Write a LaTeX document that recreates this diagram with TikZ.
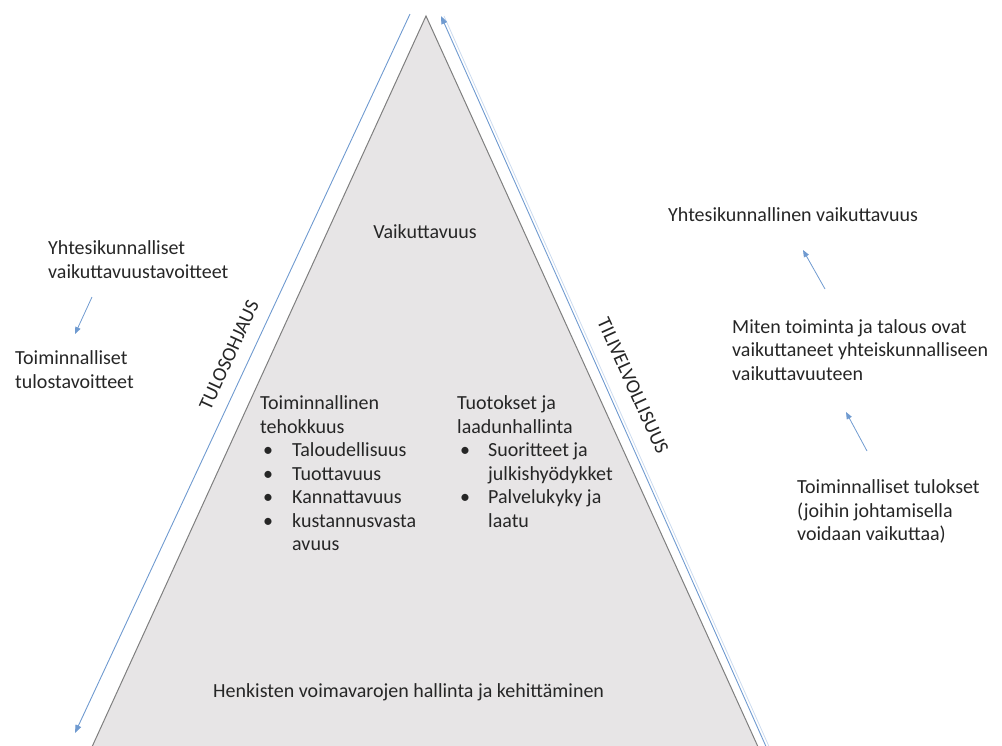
\documentclass[tikz,border=0pt]{standalone}
\usepackage{fontspec}
\setmainfont{Carlito}
\usetikzlibrary{arrows.meta}
\definecolor{pyrfill}{HTML}{E7E5E6}
\definecolor{pyredge}{HTML}{7F7F7F}
\definecolor{flowblue}{HTML}{6F9AD0}
\definecolor{txt}{HTML}{262626}
\newcommand{\blt}[1]{\makebox[#1][l]{\hspace{3pt}\textbullet}}
\begin{document}
\begin{tikzpicture}[x=1pt,y=-1pt,
  lbl/.style={font=\fontsize{20}{23.5}\selectfont, text=txt, inner sep=0pt, align=left},
  side/.style={font=\fontsize{20}{23}\selectfont, text=txt, inner sep=0pt},
  flow/.style={draw=flowblue, line width=0.9pt, -{Triangle[length=8pt,width=6pt]}},
  small/.style={draw=flowblue, line width=0.8pt, -{Triangle[length=7pt,width=5.5pt]}}]
\useasboundingbox (0,0) rectangle (1002,745);
\clip (0,0) rectangle (1002,745);

% pyramid
\coordinate (apex) at (426,16);
\coordinate (bl) at (86,760);
\coordinate (br) at (764,760);
\filldraw[fill=pyrfill, draw=pyredge, line width=1pt] (apex) -- (bl) -- (br) -- cycle;

% top-down and bottom-up flows along the sides
\coordinate (ltop) at (410,14);
\coordinate (lbot) at (75,733);
\coordinate (rtop) at (441,16);
\coordinate (rbot) at (772,760);
\draw[flow] (ltop) -- (lbot);
\draw[draw=flowblue!35, line width=0.8pt] ([xshift=3pt]rbot) -- ([xshift=3pt]rtop);
\draw[flow] (rbot) -- (rtop);

\node[side, rotate=65.4] (tulos) at (229,355) {TULOSOHJAUS};
\node[side, rotate=-65.6] (tili) at (633,386) {TILIVELVOLLISUUS};

% pyramid contents (multi-line nodes sit on their last baseline)
\node[lbl, anchor=base] (vaik) at (425,238.5) {Vaikuttavuus};
\node[lbl, anchor=base west] (tehok) at (260,550.5) {Toiminnallinen\\tehokkuus\\
  \blt{32pt}Taloudellisuus\\\blt{32pt}Tuottavuus\\\blt{32pt}Kannattavuus\\
  \blt{32pt}kustannusvasta\\\hspace{32pt}avuus};
\node[lbl, anchor=base west] (tuot) at (457,527) {Tuotokset ja\\laadunhallinta\\
  \blt{31pt}Suoritteet ja\\\hspace{31pt}julkishyödykket\\\blt{31pt}Palvelukyky ja\\
  \hspace{31pt}laatu};
\node[lbl, anchor=base west] (henk) at (213,697.5) {Henkisten voimavarojen hallinta ja kehittäminen};

% left side: goals
\node[lbl, anchor=base west] (ytav) at (48,278) {Yhtesikunnalliset\\vaikuttavuustavoitteet};
\node[lbl, anchor=base west] (ttav) at (15,388) {Toiminnalliset\\tulostavoitteet};
\coordinate (la1) at (92,297);
\coordinate (la2) at (75,334);
\draw[small] (la1) -- (la2);

% right side: results
\node[lbl, anchor=base west] (yvaik) at (668,221.5) {Yhtesikunnallinen vaikuttavuus};
\node[lbl, anchor=base west] (miten) at (732,380) {Miten toiminta ja talous ovat\\vaikuttaneet yhteiskunnalliseen\\vaikuttavuuteen};
\node[lbl, anchor=base west] (tulok) at (797,540.5) {Toiminnalliset tulokset\\(joihin johtamisella\\voidaan vaikuttaa)};
\coordinate (ra1) at (825,289);
\coordinate (ra2) at (803,250);
\coordinate (rb1) at (867,451);
\coordinate (rb2) at (846,412);
\draw[small] (ra1) -- (ra2);
\draw[small] (rb1) -- (rb2);
\end{tikzpicture}
\end{document}
